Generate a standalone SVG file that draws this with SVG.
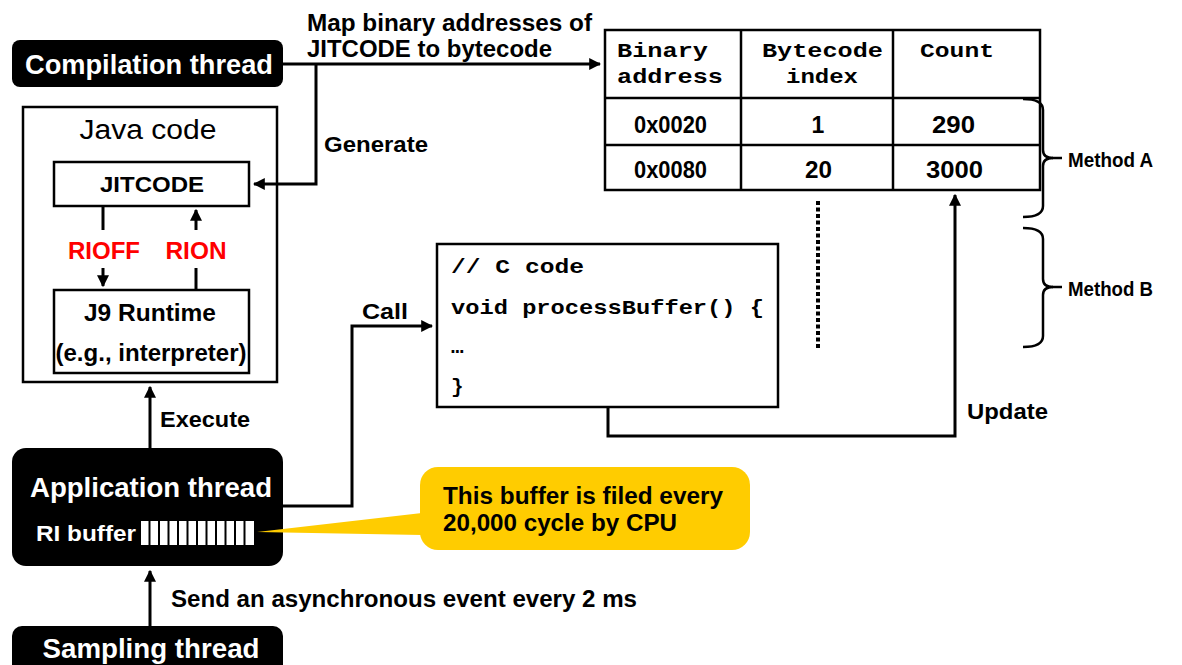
<svg xmlns="http://www.w3.org/2000/svg" width="1182" height="665" viewBox="0 0 1182 665">
<style>
.b{font-family:"Liberation Sans",Arial,sans-serif;font-weight:bold;fill:#000}
.w{font-family:"Liberation Sans",Arial,sans-serif;font-weight:bold;fill:#fff}
.m{font-family:"Liberation Mono","Courier New",monospace;font-weight:bold;fill:#000}
.r{font-family:"Liberation Sans",Arial,sans-serif;font-weight:bold;fill:#ff0000}
.box{fill:#fff;stroke:#000;stroke-width:2.5}
.dark{fill:#000}
.ln{fill:none;stroke:#000;stroke-width:3}
.br{fill:none;stroke:#000;stroke-width:2.5}
</style>
<defs>
<marker id="ah" viewBox="0 0 10 10" refX="9" refY="5" markerWidth="4" markerHeight="4" orient="auto" markerUnits="strokeWidth">
<path d="M0,0 L10,5 L0,10 z" fill="#000"/>
</marker>
</defs>
<rect width="1182" height="665" fill="#fff"/>

<g id="compilation-thread">
<rect class="dark" x="12" y="40" width="271" height="47" rx="8"/>
<text class="w" x="149" y="74" font-size="27" text-anchor="middle" textLength="248" lengthAdjust="spacingAndGlyphs">Compilation thread</text>
</g>

<g id="java-code">
<rect class="box" x="23" y="107" width="254" height="275"/>
<text x="148" y="139" font-size="27" text-anchor="middle" font-family="Liberation Sans, Arial, sans-serif" textLength="137" lengthAdjust="spacingAndGlyphs">Java code</text>
</g>

<g id="jitcode">
<rect class="box" x="54" y="162" width="195" height="44"/>
<text class="b" x="152" y="192" font-size="22" text-anchor="middle" textLength="104" lengthAdjust="spacingAndGlyphs">JITCODE</text>
</g>

<g id="j9-runtime">
<rect class="box" x="54" y="290" width="195" height="83"/>
<text class="b" x="150" y="321" font-size="23" text-anchor="middle" textLength="132" lengthAdjust="spacingAndGlyphs">J9 Runtime</text>
<text class="b" x="151" y="361" font-size="23" text-anchor="middle" textLength="191" lengthAdjust="spacingAndGlyphs">(e.g., interpreter)</text>
</g>

<g id="application-thread">
<rect class="dark" x="12" y="448" width="271" height="118" rx="14"/>
<text class="w" x="151" y="497" font-size="27" text-anchor="middle" textLength="242" lengthAdjust="spacingAndGlyphs">Application thread</text>
<text class="w" x="36" y="541" font-size="22" textLength="100" lengthAdjust="spacingAndGlyphs">RI buffer</text>
<g fill="#fff">
<rect x="141" y="521" width="7.5" height="24"/>
<rect x="150.5" y="521" width="7.5" height="24"/>
<rect x="160" y="521" width="7.5" height="24"/>
<rect x="169.5" y="521" width="7.5" height="24"/>
<rect x="179" y="521" width="7.5" height="24"/>
<rect x="188.5" y="521" width="7.5" height="24"/>
<rect x="198" y="521" width="7.5" height="24"/>
<rect x="207.5" y="521" width="7.5" height="24"/>
<rect x="217" y="521" width="7.5" height="24"/>
<rect x="226.5" y="521" width="7.5" height="24"/>
<rect x="236" y="521" width="7.5" height="24"/>
<rect x="245.5" y="521" width="8.5" height="24"/>
</g>
</g>

<g id="sampling-thread">
<rect class="dark" x="12" y="626" width="271" height="60" rx="10"/>
<text class="w" x="151" y="658" font-size="27" text-anchor="middle" textLength="217" lengthAdjust="spacingAndGlyphs">Sampling thread</text>
</g>

<g id="c-code">
<rect class="box" x="437" y="244" width="341" height="163"/>
<text class="m" x="451" y="273" font-size="21" textLength="133" lengthAdjust="spacingAndGlyphs">// C code</text>
<text class="m" x="451" y="314" font-size="21" textLength="313" lengthAdjust="spacingAndGlyphs">void processBuffer() {</text>
<text class="m" x="451" y="353" font-size="21">…</text>
<text class="m" x="451" y="393" font-size="21">}</text>
</g>

<g id="table">
<rect class="box" x="605" y="30" width="435" height="160"/>
<line class="br" x1="741" y1="30" x2="741" y2="190"/>
<line class="br" x1="893" y1="30" x2="893" y2="190"/>
<line class="br" x1="605" y1="98" x2="1040" y2="98"/>
<line class="br" x1="605" y1="145" x2="1040" y2="145"/>
<text class="m" x="617" y="57" font-size="21" textLength="91" lengthAdjust="spacingAndGlyphs">Binary</text>
<text class="m" x="617" y="83" font-size="21" textLength="106" lengthAdjust="spacingAndGlyphs">address</text>
<text class="m" x="762" y="57" font-size="21" textLength="121" lengthAdjust="spacingAndGlyphs">Bytecode</text>
<text class="m" x="786" y="83" font-size="21" textLength="72" lengthAdjust="spacingAndGlyphs">index</text>
<text class="m" x="920" y="57" font-size="21" textLength="74" lengthAdjust="spacingAndGlyphs">Count</text>
<text class="b" x="634" y="133" font-size="23" textLength="73" lengthAdjust="spacingAndGlyphs">0x0020</text>
<text class="b" x="818" y="133" font-size="23" text-anchor="middle">1</text>
<text class="b" x="932" y="133" font-size="23" textLength="43" lengthAdjust="spacingAndGlyphs">290</text>
<text class="b" x="634" y="178" font-size="23" textLength="73" lengthAdjust="spacingAndGlyphs">0x0080</text>
<text class="b" x="805" y="178" font-size="23" textLength="27" lengthAdjust="spacingAndGlyphs">20</text>
<text class="b" x="926" y="178" font-size="23" textLength="57" lengthAdjust="spacingAndGlyphs">3000</text>
<line x1="818" y1="201" x2="818" y2="348" stroke="#000" stroke-width="4" stroke-dasharray="4,2.5"/>
</g>

<g id="method-a">
<path class="br" d="M1023,99 Q1043,99 1043,110 L1043,150 Q1043,158 1053,158 Q1043,158 1043,166 L1043,206 Q1043,217 1023,217"/>
<line class="br" x1="1052" y1="158" x2="1062" y2="158"/>
<text class="b" x="1068" y="167" font-size="20" textLength="85" lengthAdjust="spacingAndGlyphs">Method A</text>
</g>

<g id="method-b">
<path class="br" d="M1023,228 Q1043,228 1043,239 L1043,279 Q1043,287 1053,287 Q1043,287 1043,295 L1043,336 Q1043,347 1023,347"/>
<line class="br" x1="1052" y1="287" x2="1062" y2="287"/>
<text class="b" x="1068" y="296" font-size="20" textLength="85" lengthAdjust="spacingAndGlyphs">Method B</text>
</g>

<g id="callout">
<path d="M422,513 L257,532 L422,535 Z" fill="#ffcc00"/>
<rect x="420" y="467" width="330" height="83" rx="18" fill="#ffcc00"/>
<text class="b" x="443" y="504" font-size="23" textLength="280" lengthAdjust="spacingAndGlyphs">This buffer is filed every</text>
<text class="b" x="443" y="531" font-size="23" textLength="234" lengthAdjust="spacingAndGlyphs">20,000 cycle by CPU</text>
</g>

<g id="connectors">
<polyline class="ln" points="283,64 600,64" marker-end="url(#ah)"/>
<polyline class="ln" points="316,64 316,184 254,184" marker-end="url(#ah)"/>
<polyline class="ln" points="103,206 103,230"/>
<polyline class="ln" points="103,268 103,286" marker-end="url(#ah)"/>
<polyline class="ln" points="196,290 196,268"/>
<polyline class="ln" points="196,230 196,210" marker-end="url(#ah)"/>
<polyline class="ln" points="150,448 150,387" marker-end="url(#ah)"/>
<polyline class="ln" points="283,506 352,506 352,326 432,326" marker-end="url(#ah)"/>
<polyline class="ln" points="608,407 608,436 955,436 955,195" marker-end="url(#ah)"/>
<polyline class="ln" points="150,626 150,571" marker-end="url(#ah)"/>
</g>

<g id="labels">
<text class="b" x="307" y="31" font-size="23" textLength="285" lengthAdjust="spacingAndGlyphs">Map binary addresses of</text>
<text class="b" x="307" y="57" font-size="23" textLength="245" lengthAdjust="spacingAndGlyphs">JITCODE to bytecode</text>
<text class="b" x="324" y="152" font-size="22" textLength="104" lengthAdjust="spacingAndGlyphs">Generate</text>
<text class="r" x="104" y="259" font-size="23" text-anchor="middle" textLength="72" lengthAdjust="spacingAndGlyphs">RIOFF</text>
<text class="r" x="196" y="259" font-size="23" text-anchor="middle" textLength="61" lengthAdjust="spacingAndGlyphs">RION</text>
<text class="b" x="160" y="427" font-size="22" textLength="90" lengthAdjust="spacingAndGlyphs">Execute</text>
<text class="b" x="362" y="319" font-size="22" textLength="46" lengthAdjust="spacingAndGlyphs">Call</text>
<text class="b" x="967" y="419" font-size="22" textLength="81" lengthAdjust="spacingAndGlyphs">Update</text>
<text class="b" x="171" y="607" font-size="23" textLength="466" lengthAdjust="spacingAndGlyphs">Send an asynchronous event every 2 ms</text>
</g>
</svg>
